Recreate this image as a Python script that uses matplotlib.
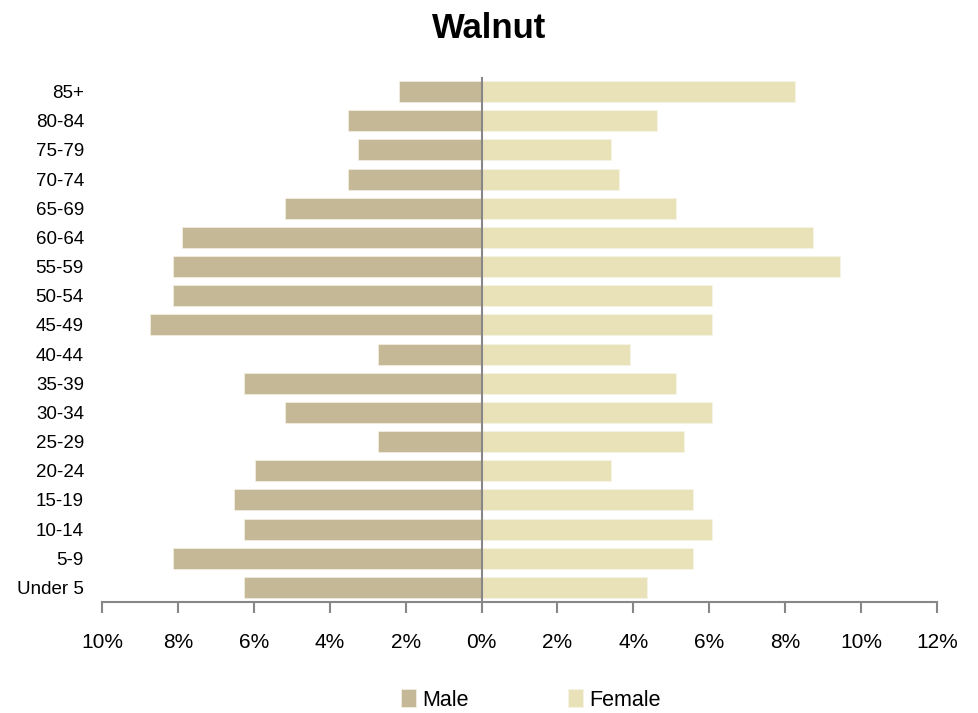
import matplotlib
matplotlib.use('Agg')
from matplotlib import pyplot as plt
from matplotlib.ticker import FuncFormatter

plt.rcParams['font.family'] = ['Liberation Sans Narrow', 'Liberation Sans', 'DejaVu Sans']

ages = ['Under 5', '5-9', '10-14', '15-19', '20-24', '25-29', '30-34', '35-39',
        '40-44', '45-49', '50-54', '55-59', '60-64', '65-69', '70-74', '75-79',
        '80-84', '85+']
male = [6.26, 8.14, 6.26, 6.53, 5.97, 2.73, 5.17, 6.26,
        2.73, 8.73, 8.14, 8.14, 7.88, 5.17, 3.53, 3.26,
        3.53, 2.17]
female = [4.35, 5.57, 6.07, 5.57, 3.40, 5.33, 6.07, 5.12,
          3.90, 6.07, 6.07, 9.44, 8.73, 5.12, 3.63, 3.40,
          4.62, 8.25]
ticks = [-10, -8, -6, -4, -2, 0, 2, 4, 6, 8, 10, 12]

male_color = '#C4B896'
female_color = '#E9E2B9'

fig = plt.figure(figsize=(9.79, 7.13), dpi=100)
ax = fig.add_axes([102 / 979, 1 - 602 / 713, (937 - 102) / 979, (602 - 77) / 713])

y = list(range(len(ages)))
ax.barh(y, [-m for m in male], height=0.72, color=male_color,
        edgecolor='#F2EEDF', linewidth=0.6, label='Male')
ax.barh(y, female, height=0.72, color=female_color,
        edgecolor='#F7F4E6', linewidth=0.6, label='Female')
ax.axvline(0, color='#878787', linewidth=1.5)

ax.set_xlim(-10, 12)
ax.set_ylim(-0.5, len(ages) - 0.5)
ax.set_xticks(ticks)
ax.xaxis.set_major_formatter(FuncFormatter(lambda v, p: '%d%%' % abs(v)))
ax.set_yticks(y)
ax.set_yticklabels(ages)

for s in ['top', 'right', 'left']:
    ax.spines[s].set_visible(False)
ax.spines['bottom'].set_color('#878787')
ax.spines['bottom'].set_linewidth(1.5)
ax.tick_params(axis='x', direction='out', length=8, width=1.5, color='#878787',
               pad=14, labelsize=15)
ax.tick_params(axis='y', length=0, pad=13, labelsize=13.5)

fig.suptitle('Walnut', fontsize=25, fontweight='bold', y=0.983,
             family=['Liberation Sans', 'DejaVu Sans'])

fig.legend(loc='lower center', bbox_to_anchor=(0.542, -0.024), ncol=2,
           frameon=False, fontsize=15.5, handlelength=0.7, handleheight=0.9,
           handletextpad=0.3, columnspacing=4.6)

fig.savefig('out.png', dpi=100)
